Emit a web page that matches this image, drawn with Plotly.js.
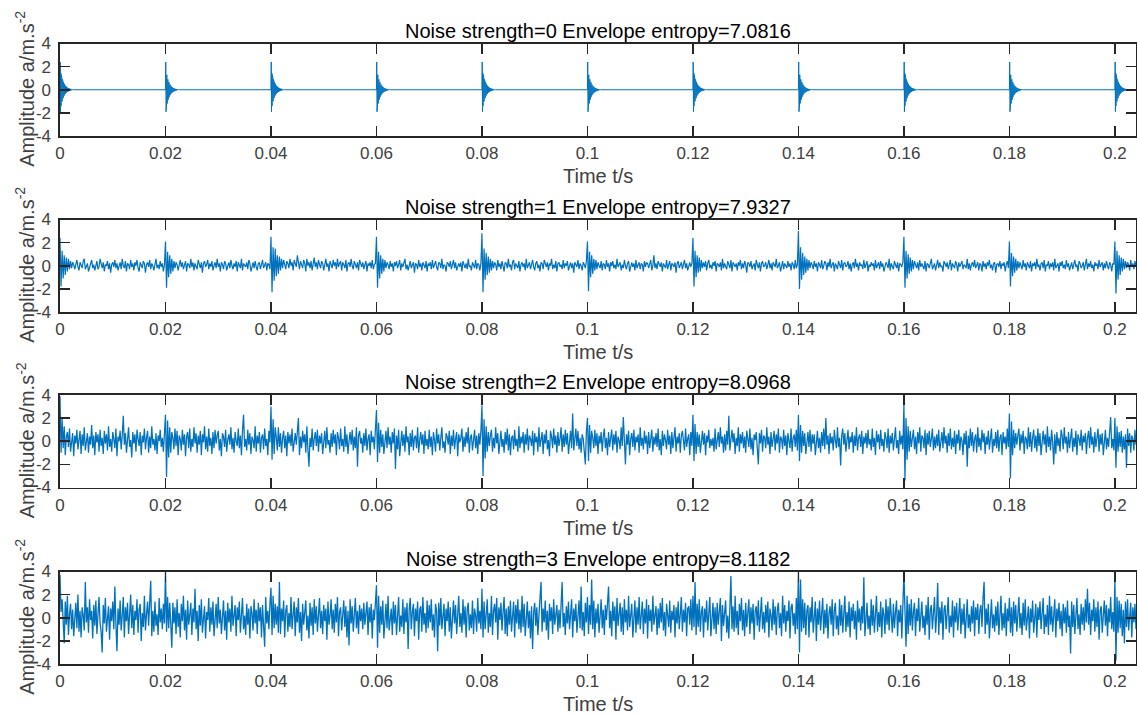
<!DOCTYPE html>
<html>
<head>
<meta charset="utf-8">
<script src="https://cdn.plot.ly/plotly-3.0.1.min.js"></script>
<style>
  html, body { margin: 0; padding: 0; background: #ffffff; }
  #chart { width: 1137px; height: 715px; }
</style>
</head>
<body>
<div id="chart"></div>
<script>
// ---------------- DATA ----------------
const noiseStrengths = [0, 1, 2, 3];
const envelopeEntropies = ['7.0816', '7.9327', '8.0968', '8.1182'];

const xTickVals = [0, 0.02, 0.04, 0.06, 0.08, 0.1, 0.12, 0.14, 0.16, 0.18, 0.2];
const xTickText = ['0', '0.02', '0.04', '0.06', '0.08', '0.1', '0.12', '0.14', '0.16', '0.18', '0.2'];
const yTickVals = [-4, -2, 0, 2, 4];
const yTickText = ['-4', '-2', '0', '2', '4'];

const signalEnd = 0.204;      // s, length of the record
const impulsePeriod = 0.02;   // s, spacing between fault impulses
const dtClean = 0.00005;      // s, sample spacing of the clean impulse response
const dtNoisy = 0.0002;       // s, sample spacing of the read-off noisy traces

// Noise strength = 0: impulse times and one decaying impulse response
const impulseTimes = [0, 0.02, 0.04, 0.06, 0.08, 0.1, 0.12, 0.14, 0.16, 0.18, 0.2];
const impulseResponse = [0, 2.4, -1.9, 1.45, -1.4, 1.3, -1.2, 1.05, -1.0, 0.9, -0.85, 0.78, -0.72, 0.66, -0.6,
  0.55, -0.5, 0.46, -0.42, 0.39, -0.36, 0.33, -0.3, 0.27, -0.25, 0.23, -0.21, 0.19, -0.18, 0.16, -0.15,
  0.14, -0.13, 0.12, -0.11, 0.1, -0.09, 0.08, -0.075, 0.07, -0.065, 0.06, -0.05, 0.045, -0.04, 0.035,
  -0.03, 0.025, -0.02, 0.015, -0.01, 0.005, 0];

// Noise strength = 1 (one row per 0.02 s impulse period)
const noisy1 = [
  [2.4,-1.8,1.3,-1.1,0.9,-0.8,0.7,-0.5,0.6,-0.3,0.4,-0.2,0.3,0.1,-0.3,0.2,0.5,-0.1,-0.4,0.3,0.1,-0.2,0.4,0.6,-0.3,0.0,0.2,-0.5,-0.1,0.3,0.5,-0.2,0.1,-0.4,0.2,0.4,-0.3,-0.1,0.6,0.2,-0.2,0.3,-0.5,0.1,0.0,0.4,-0.3,0.2,-0.6,0.1,0.3,-0.1,0.5,-0.2,0.2,-0.4,0.1,0.3,-0.3,0.6,0.0,-0.2,0.4,-0.5,0.2,0.1,-0.3,0.5,-0.1,0.2,-0.4,0.3,0.0,0.5,-0.2,-0.5,0.3,0.1,-0.2,0.4,0.2,-0.6,0.1,0.3,-0.1,0.5,-0.3,0.2,0.0,-0.4,0.3,0.6,-0.2,0.1,-0.3,0.4,-0.1,0.2,-0.5,0.1],
  [2.1,-1.9,1.2,-1.0,0.9,-0.7,0.6,-0.5,0.4,-0.2,0.3,0.1,-0.4,0.2,0.5,-0.1,0.3,-0.3,0.0,0.4,-0.5,0.2,0.1,-0.2,0.6,-0.1,0.3,-0.4,0.2,0.0,-0.3,0.5,0.1,-0.2,0.3,-0.6,0.2,0.4,-0.1,0.1,0.5,-0.3,0.2,-0.1,0.4,-0.4,0.0,0.3,-0.2,0.6,-0.1,0.2,-0.5,0.3,0.1,-0.3,0.4,0.2,-0.4,0.1,0.3,-0.2,0.5,0.0,-0.3,0.2,-0.1,0.4,-0.5,0.3,0.1,-0.2,0.6,-0.4,0.2,0.0,-0.1,0.3,-0.3,0.5,0.2,-0.5,0.1,0.3,-0.2,0.4,-0.1,-0.4,0.2,0.3,-0.3,0.1,0.5,-0.2,0.0,0.3,-0.4,0.2,0.1,-0.3],
  [2.5,-2.3,1.6,-1.3,1.5,-0.9,0.9,-0.7,0.8,-0.4,0.6,-0.2,0.5,0.1,-0.3,0.4,0.2,-0.2,0.6,0.0,0.3,-0.4,0.5,0.2,-0.1,0.9,0.3,-0.3,0.4,0.1,-0.2,0.5,0.2,-0.5,0.6,0.0,0.3,-0.2,0.4,-0.4,0.2,0.7,-0.1,0.3,-0.3,0.5,0.1,-0.2,0.4,0.2,-0.4,0.3,0.6,-0.1,0.2,-0.5,0.4,0.1,-0.2,0.5,0.0,0.3,-0.3,0.6,-0.1,0.2,0.4,-0.4,0.3,0.1,-0.2,0.5,-0.5,0.2,0.3,-0.1,0.6,0.0,-0.3,0.4,0.1,-0.2,0.3,-0.4,0.5,0.2,-0.1,0.3,-0.3,0.1,0.4,-0.5,0.2,0.0,0.3,-0.2,0.5,-0.3,0.1,0.2],
  [2.5,-1.9,1.2,-1.1,0.9,-0.7,0.6,-0.5,0.5,-0.2,0.3,0.1,-0.3,0.4,-0.1,0.2,-0.5,0.3,0.0,0.4,-0.2,0.1,0.5,-0.4,0.2,-0.1,0.3,0.6,-0.3,0.1,-0.4,0.2,0.4,-0.2,0.0,0.3,-0.6,0.2,0.1,-0.3,0.5,-0.1,0.2,-0.4,0.3,0.1,-0.2,0.4,-0.5,0.2,0.0,0.3,-0.3,0.5,-0.2,0.1,0.4,-0.1,-0.4,0.3,0.2,-0.2,0.6,-0.3,0.1,0.0,-0.5,0.3,0.2,-0.1,0.4,-0.3,0.1,0.5,-0.2,0.3,-0.4,0.0,0.2,-0.1,0.3,-0.5,0.4,0.1,-0.2,0.2,-0.3,0.6,-0.1,0.0,-0.4,0.3,0.1,-0.2,0.5,-0.3,0.2,0.1,-0.4,0.2],
  [2.8,-2.3,1.5,-1.2,1.1,-0.8,0.8,-0.6,0.6,-0.4,0.4,-0.2,0.3,0.1,-0.4,0.5,-0.1,0.2,-0.3,0.4,0.0,-0.5,0.3,0.2,-0.2,0.6,-0.1,0.1,-0.4,0.3,0.5,-0.3,0.2,0.0,-0.2,0.4,-0.5,0.1,0.3,-0.1,0.2,-0.4,0.6,-0.2,0.1,0.3,-0.3,0.0,0.5,-0.1,-0.4,0.2,0.4,-0.2,0.1,-0.5,0.3,0.2,-0.3,0.5,0.1,-0.1,0.3,-0.4,0.2,0.0,0.6,-0.3,0.1,-0.2,0.4,-0.5,0.2,0.3,-0.1,0.1,-0.3,0.5,-0.2,0.2,0.0,0.4,-0.4,0.1,0.3,-0.2,0.2,-0.6,0.3,0.1,-0.1,0.5,-0.3,0.2,0.0,-0.4,0.3,0.1,-0.2,0.4],
  [2.1,-2.2,1.2,-1.0,0.9,-0.7,0.6,-0.4,0.5,-0.3,0.3,0.0,-0.2,0.4,-0.4,0.2,0.1,-0.3,0.5,-0.1,0.2,-0.5,0.3,0.0,0.4,-0.2,0.1,-0.3,0.6,-0.1,0.2,0.3,-0.4,0.1,-0.2,0.5,0.0,-0.3,0.2,0.4,-0.5,0.1,0.3,-0.1,0.2,-0.4,0.5,-0.2,0.0,0.3,-0.3,0.2,0.1,-0.5,0.4,-0.1,0.3,0.2,-0.2,0.1,0.5,-0.4,0.0,0.9,-0.2,0.2,-0.3,0.4,0.1,-0.1,0.3,-0.5,0.2,0.0,-0.2,0.5,-0.3,0.1,0.4,-0.4,0.2,0.1,-0.1,0.3,-0.6,0.2,0.4,-0.2,0.0,0.3,-0.3,0.1,0.5,-0.2,0.2,-0.4,0.1,0.3,-0.1,0.2],
  [2.4,-1.8,1.3,-1.0,0.9,-0.6,0.7,-0.5,0.5,-0.2,0.3,-0.1,0.4,-0.4,0.2,0.5,-0.2,0.1,-0.3,0.3,0.0,0.4,-0.5,0.2,0.1,-0.1,0.3,-0.4,0.6,-0.2,0.2,0.0,-0.3,0.4,0.1,-0.2,0.5,-0.5,0.3,0.1,-0.1,0.2,-0.4,0.3,0.0,0.5,-0.3,0.2,-0.2,0.4,0.1,-0.6,0.3,0.2,-0.1,0.4,-0.3,0.0,0.2,-0.4,0.5,0.1,-0.2,0.3,-0.5,0.2,0.4,-0.1,0.0,0.3,-0.3,0.1,0.5,-0.2,0.2,-0.4,0.3,0.1,-0.1,0.6,-0.2,0.0,0.3,-0.5,0.1,0.4,-0.3,0.2,0.0,-0.2,0.4,-0.1,0.2,-0.4,0.3,0.1,-0.3,0.5,-0.2,0.1],
  [3.0,-2.0,1.6,-1.2,1.1,-0.8,0.8,-0.6,0.6,-0.4,0.5,-0.2,0.3,0.1,-0.3,0.4,-0.1,0.2,-0.5,0.3,0.1,-0.2,0.5,-0.3,0.0,0.4,0.2,-0.4,0.3,-0.1,0.6,-0.2,0.1,0.3,-0.5,0.2,0.0,-0.3,0.4,0.1,-0.2,0.5,-0.4,0.2,0.3,-0.1,0.0,0.4,-0.3,0.2,-0.5,0.1,0.3,-0.2,0.6,-0.1,0.2,-0.4,0.3,0.0,0.1,-0.3,0.5,-0.2,0.2,0.4,-0.5,0.1,-0.1,0.3,0.0,0.2,-0.4,0.5,-0.2,0.1,0.3,-0.3,0.4,-0.1,0.2,-0.5,0.0,0.3,0.1,-0.2,0.6,-0.4,0.2,0.0,-0.3,0.4,0.1,-0.2,0.3,-0.5,0.2,0.1,-0.1,0.3],
  [2.5,-1.9,1.3,-1.1,1.0,-0.7,0.7,-0.5,0.5,-0.3,0.4,0.1,-0.2,0.3,-0.4,0.5,-0.1,0.2,0.0,-0.3,0.4,-0.5,0.2,0.1,-0.2,0.3,0.6,-0.3,0.0,0.2,-0.4,0.1,0.5,-0.2,0.3,-0.1,0.0,-0.5,0.4,0.2,-0.1,0.3,-0.3,0.1,0.5,-0.4,0.2,0.0,-0.2,0.4,0.1,-0.5,0.3,-0.1,0.2,0.4,-0.3,0.1,0.0,-0.2,0.6,-0.3,0.2,-0.4,0.1,0.3,-0.1,0.5,-0.2,0.0,0.3,-0.4,0.2,0.1,-0.5,0.4,-0.1,0.2,-0.3,0.3,0.0,0.5,-0.2,0.1,-0.4,0.2,0.3,-0.6,0.1,0.2,-0.1,0.4,-0.3,0.2,0.0,0.3,-0.5,0.1,0.4,-0.2],
  [2.1,-1.8,1.1,-0.9,0.8,-0.6,0.6,-0.4,0.4,-0.2,0.3,0.0,-0.3,0.5,-0.1,0.2,-0.4,0.3,0.1,-0.2,0.4,-0.5,0.2,0.0,0.3,-0.3,0.6,-0.1,0.1,-0.4,0.2,0.3,-0.2,0.5,-0.5,0.1,0.0,0.4,-0.3,0.2,-0.1,0.3,-0.4,0.6,-0.2,0.1,0.2,-0.5,0.3,0.0,0.4,-0.2,0.1,-0.3,0.5,-0.1,0.2,-0.4,0.0,0.3,-0.3,0.2,0.5,-0.1,0.1,-0.5,0.4,0.2,-0.2,0.0,0.3,-0.4,0.1,0.6,-0.3,0.2,-0.1,0.4,-0.2,0.1,-0.5,0.3,0.0,0.2,-0.3,0.5,-0.1,0.1,0.3,-0.4,0.2,-0.2,0.4,0.0,-0.3,0.3,0.1,-0.5,0.2,0.1],
  [2.1,-2.4,1.3,-1.2,0.9,-0.8,0.7,-0.5,0.6,-0.3,0.4,-0.2,0.3,0.1,-0.4,0.5,-0.1,0.2,-0.3,0.4,0.0]
];

// Noise strength = 2
const noisy2 = [
  [3.9,-1.0,2.0,-0.6,1.3,-1.2,0.4,0.8,-0.5,1.1,-0.9,0.3,0.7,-1.3,0.5,-0.2,1.0,-0.7,0.2,0.9,-1.1,0.6,-0.4,1.2,-0.8,0.1,0.7,-1.0,0.4,-0.3,1.4,-0.6,0.5,-1.2,0.8,-0.1,0.6,-0.9,1.0,-0.4,0.3,-1.1,0.9,-0.2,0.6,-0.8,1.3,-0.5,0.2,-0.9,0.8,0.2,-0.6,1.1,-1.3,0.4,0.0,0.9,-0.7,0.5,2.2,-0.3,0.7,-1.0,0.3,1.2,-0.5,0.1,-1.4,0.8,-0.2,0.6,-0.9,1.0,0.2,-0.4,0.8,-1.2,0.5,-0.1,1.1,-0.7,0.3,0.9,-1.0,0.4,-0.6,1.3,-0.3,0.2,-0.8,0.7,-1.1,0.5,0.0,1.0,-0.5,0.3,-0.9,0.6],
  [2.3,-3.1,1.8,-1.4,1.2,-1.0,0.8,0.3,-0.7,1.1,-0.4,0.9,-1.2,0.5,0.2,-0.8,1.0,-0.3,0.6,-1.3,0.4,0.8,-0.6,1.1,-0.9,0.2,-0.5,1.2,-0.2,0.7,-1.0,0.5,-0.3,0.9,-1.2,0.6,-0.1,1.3,-0.7,0.4,-0.9,1.1,-0.4,0.3,-1.1,0.8,-0.6,1.0,-0.2,0.5,0.9,-0.8,0.2,-1.3,0.7,0.4,-0.5,1.0,-0.9,0.1,0.6,-0.3,1.2,-0.7,0.3,-1.0,0.8,0.0,-0.4,1.1,-0.6,0.5,-1.2,0.9,2.3,-0.5,0.2,-0.8,1.0,-0.3,0.7,-1.1,0.4,0.1,-0.6,1.3,-0.9,0.5,-0.2,0.8,-1.0,0.3,0.6,-0.7,1.1,-0.4,0.2,-1.2,0.9,-0.1],
  [3.0,-1.6,1.9,-1.1,1.2,0.4,-0.8,1.2,-0.5,0.7,-1.0,0.3,0.9,-0.6,0.5,-1.3,0.8,-0.2,0.6,-0.4,1.1,-0.9,0.2,0.7,-0.3,1.0,2.0,-1.2,0.4,-0.6,0.9,-0.1,0.6,-1.0,1.3,-0.7,-2.2,0.3,-0.5,1.1,-0.8,0.2,0.8,-0.4,1.0,-0.9,0.5,-0.2,0.7,-1.1,0.4,0.9,-0.6,1.2,-0.3,0.1,-1.0,0.7,-0.5,1.0,-0.2,0.6,-1.2,0.8,0.3,-0.7,1.1,-0.4,0.2,-0.9,1.3,-0.5,0.6,-1.1,0.0,0.8,-0.3,1.0,-0.8,0.4,-0.6,1.2,-2.2,0.5,0.9,-0.2,0.3,-1.0,0.7,-0.4,1.1,-0.8,0.2,0.6,-1.2,0.9,-0.1,0.4,-0.7,1.0],
  [2.7,-1.8,1.6,-1.0,1.0,-0.5,0.6,-1.1,0.3,0.9,-0.6,1.2,-0.3,0.4,-1.0,0.8,-0.2,1.1,-2.4,0.5,-0.7,1.0,-1.3,0.2,0.9,-0.4,0.6,-0.9,1.3,-0.1,0.4,-1.2,0.7,-0.5,1.0,-0.8,0.3,0.5,-0.6,1.2,-1.0,0.1,0.8,-0.3,0.6,-1.1,0.9,-0.4,0.2,-0.7,1.0,-0.5,0.4,-1.2,0.8,0.1,-0.9,1.1,-0.2,0.6,-0.8,0.3,1.2,-0.6,0.0,-1.0,0.7,0.4,-0.3,0.9,-1.1,0.5,-0.4,1.0,-0.7,0.2,0.8,-1.3,0.6,-0.1,0.3,1.1,-0.9,0.4,-0.5,0.8,-0.2,1.2,-1.0,0.3,0.6,-0.8,0.1,1.0,-0.6,0.5,-1.1,0.7,-0.3,0.9],
  [3.1,-3.0,1.9,-1.5,1.3,-0.9,0.8,-0.4,0.5,1.0,-0.9,0.3,-0.6,1.2,-0.2,0.7,-1.1,0.4,0.9,-0.5,0.2,-1.0,0.8,-0.3,1.1,-0.8,0.6,-1.2,0.3,0.5,-0.7,1.0,-0.4,0.2,-0.9,1.3,-0.6,0.4,-0.2,0.8,-1.0,0.6,-0.3,1.1,-0.8,0.5,0.2,-0.4,0.9,-1.2,0.7,-0.1,0.4,-0.9,1.2,-0.5,0.3,0.8,-1.1,0.6,-0.2,1.0,-0.7,0.1,-1.3,0.9,0.4,-0.6,1.1,-0.3,0.5,-1.0,0.8,-0.4,0.2,1.2,-0.9,0.6,-0.5,1.0,-0.3,0.7,-1.1,0.4,0.9,-0.6,2.4,-0.8,0.5,1.1,-0.4,0.9,-0.7,0.3,-1.0,0.6,0.2,-0.9,-2.0,0.8],
  [2.0,-1.7,1.4,-1.0,0.9,0.3,-0.6,1.0,-0.4,0.7,-1.1,0.5,-0.2,0.8,-0.9,0.4,1.1,-0.6,0.3,-1.2,0.8,-0.5,0.2,1.0,-0.8,0.6,-0.3,0.9,-1.0,0.4,0.1,-0.7,1.2,-0.4,2.1,-0.9,-2.0,0.6,-0.3,0.9,-1.2,0.2,0.7,-0.5,1.0,-0.8,0.4,-0.1,0.6,-1.0,1.2,-0.4,0.3,-0.7,0.9,-0.2,0.5,-1.1,0.8,-0.6,0.3,1.0,-0.9,0.4,-0.3,0.7,-0.5,1.1,-0.8,0.2,-1.2,0.9,-0.4,0.6,0.1,-0.7,1.0,-0.3,0.5,-1.1,0.8,-0.6,0.3,1.2,-0.9,0.4,-0.2,0.7,-1.0,0.5,0.9,-0.3,-0.8,1.1,-0.5,0.2,0.6,-1.2,0.8,-0.4],
  [2.3,-1.7,1.5,-1.1,0.8,-0.5,0.6,-1.0,0.4,0.9,-0.3,0.7,-1.2,0.5,-0.1,1.0,-0.6,0.2,-0.4,0.3,-0.9,1.1,-0.7,0.2,0.8,-0.5,1.2,-0.2,0.4,-1.0,0.6,-0.8,0.9,-0.3,2.2,-0.8,0.5,1.0,-0.1,0.7,-1.1,0.3,-0.4,1.2,-0.9,0.6,-0.2,0.8,-0.6,0.4,-1.0,0.9,0.2,-0.5,1.1,-0.7,0.3,-1.2,0.6,0.1,0.8,-0.4,-2.0,0.7,-0.2,1.0,-0.9,0.5,0.3,-0.6,1.2,-0.3,0.4,-1.1,0.8,-0.5,0.1,0.9,-0.8,0.6,-0.2,1.1,-1.0,0.4,0.2,-0.7,1.0,-0.4,0.5,-1.2,0.7,0.0,-0.6,1.1,-0.9,0.3,0.6,-0.5,1.0,-0.8],
  [2.3,-1.7,1.4,-1.0,0.9,-0.4,0.7,-1.1,0.3,0.8,-0.5,1.0,-0.9,0.6,-0.2,0.6,-1.2,0.4,0.9,-0.6,0.3,-1.0,0.8,-0.4,1.1,-0.7,2.0,-0.3,0.5,-1.1,0.7,-0.2,0.4,-0.8,1.0,0.1,-0.6,1.2,-0.5,0.3,-2.1,0.5,1.1,-0.3,0.7,-0.9,0.2,1.0,-0.7,0.4,-0.1,0.8,-1.0,0.5,-0.4,1.2,-0.8,0.3,0.6,-0.5,0.9,-1.1,0.4,-0.2,0.7,-0.6,1.0,-0.3,0.2,-0.8,1.1,-0.5,0.3,-1.2,0.9,-0.1,0.6,-0.7,1.0,-0.4,0.2,-0.9,0.8,0.3,-0.6,1.1,-1.0,0.5,-0.2,0.7,-0.8,0.4,1.2,-0.6,0.1,-1.1,0.9,-0.3,0.5,-0.7],
  [3.2,-3.4,2.0,-1.6,1.3,-0.9,0.9,-0.5,0.6,1.0,-0.7,0.4,-1.1,0.8,-0.2,1.2,-0.9,0.5,0.3,-0.6,1.0,-1.2,0.7,-0.3,0.9,-0.5,0.2,1.1,-0.8,0.4,-0.6,0.6,-0.4,1.0,-0.9,0.3,0.8,-0.6,1.2,-0.2,0.5,-1.0,0.7,-0.4,1.1,-0.7,0.3,-0.5,0.9,-1.1,0.6,-0.2,1.0,-0.8,0.4,0.1,-1.2,0.7,-0.3,0.9,-2.2,0.5,-0.6,1.1,-0.4,0.8,-0.9,0.2,0.6,-1.0,1.2,-0.5,0.3,-0.8,1.0,-0.1,0.7,-1.1,0.4,-0.3,0.9,-0.7,0.5,1.1,-1.0,0.2,-0.4,0.8,-0.6,1.0,-0.9,0.3,0.6,-1.2,0.8,-0.2,0.4,-0.7,1.1,-0.5],
  [2.4,-3.2,1.7,-1.2,1.0,-0.6,0.7,-0.3,0.5,1.1,-0.8,0.6,-0.2,0.9,-1.1,0.4,0.2,-0.7,1.2,-0.5,0.8,-0.9,0.3,1.0,-0.6,0.5,-0.9,1.1,-0.4,0.7,-1.2,0.2,0.9,-0.3,0.6,-1.0,1.3,-0.5,0.4,-0.8,1.0,-0.1,-2.0,0.6,-1.1,0.8,-0.4,0.3,-0.9,1.0,0.5,-0.7,1.2,-0.2,0.4,-1.0,0.8,-0.6,0.1,1.1,-0.9,0.3,-0.5,0.9,-1.2,0.6,0.2,-0.4,1.0,-0.8,0.5,-0.1,0.7,-1.1,0.3,0.9,-0.6,1.2,-0.3,0.4,-1.0,0.8,-0.5,0.2,1.1,-0.9,0.6,-0.3,0.7,-1.2,0.4,1.0,-0.7,0.3,-0.5,0.9,2.1,-0.6,0.2,-0.8],
  [2.0,-2.3,1.3,-0.9,0.8,-0.5,0.9,-1.0,0.4,-0.7,0.6,-2.3,1.1,-0.4,0.7,-1.0,0.5,0.2,-0.8,1.0,-0.3]
];

// Noise strength = 3
const noisy3 = [
  [3.7,0.5,1.6,-0.8,-2.2,1.4,-0.6,1.9,-1.5,0.3,1.2,-1.0,0.7,-1.6,0.4,1.3,-0.9,2.0,-1.2,0.6,-1.7,0.9,0.2,-1.1,3.1,-0.4,0.9,-1.3,1.6,-0.2,0.6,-1.8,1.1,-0.7,1.5,-1.4,0.3,1.8,-0.5,-1.2,-3.0,1.1,-0.5,1.7,-1.2,0.4,1.0,-1.9,0.8,-0.3,1.4,-1.0,2.7,-0.6,-2.9,0.8,-0.6,1.5,-1.1,0.2,1.8,-1.7,0.9,-0.3,1.3,-1.4,0.5,2.0,-0.9,1.1,-1.5,0.6,-0.2,1.6,-1.3,0.7,1.2,-2.0,0.4,-0.8,1.9,-1.1,0.3,1.4,-0.7,0.9,3.2,-1.6,0.6,-1.2,1.4,-0.7,0.3,-1.5,1.7,-0.4,0.8,-1.0,1.2,-0.5],
  [4.0,-1.2,1.8,-0.9,1.3,-0.5,-2.6,1.3,-0.5,0.9,-1.4,1.6,-0.8,0.4,-1.7,1.2,-0.3,1.9,-1.1,0.7,-1.9,1.5,-0.6,0.2,1.3,-1.5,0.8,-0.4,2.5,-1.0,0.6,-2.0,1.1,-0.7,1.6,-1.3,0.3,1.0,-1.8,0.5,-0.2,1.7,-1.2,0.9,-0.6,1.4,-1.6,0.4,1.2,-0.9,1.8,-0.5,0.7,-1.4,0.2,1.5,-1.1,0.6,-1.9,1.3,-0.4,0.8,-1.2,1.9,-0.7,0.3,1.1,-1.6,0.9,-0.2,1.4,-1.3,0.5,1.7,-1.0,0.2,-1.5,1.2,-0.6,0.8,-1.8,1.0,0.4,-1.1,1.6,-0.5,0.7,-1.4,1.3,-0.3,0.9,-1.7,1.1,-0.8,-2.5,1.8,-0.5,0.6,-1.0,1.2],
  [2.6,-1.5,1.9,-0.9,1.2,-0.6,1.0,-1.3,3.1,-1.4,0.8,-0.3,1.5,-1.7,0.6,1.1,-1.2,0.4,-0.8,1.8,-1.0,0.3,1.4,-1.6,0.9,-0.4,1.7,-1.3,0.5,-2.0,1.2,-0.6,0.8,1.5,-1.1,0.2,-1.8,1.3,-0.7,0.9,-1.5,1.6,-0.5,1.0,-1.2,0.4,1.7,-0.9,0.6,-1.4,1.1,-0.3,0.8,-1.9,1.4,-0.6,0.2,1.6,-1.0,0.7,-1.3,1.2,-0.4,1.8,-1.6,0.5,0.9,-1.1,0.3,1.5,-0.8,1.0,-1.7,0.6,-2.4,1.6,-0.5,1.0,-1.2,0.4,1.7,-0.9,0.6,-1.4,1.1,-0.3,0.8,-1.0,1.3,-0.6,0.2,1.4,-1.5,0.9,-0.4,1.2,-1.8,0.7,-0.2,1.0],
  [2.8,-2.6,1.9,-1.3,1.0,-0.6,1.5,-1.8,0.4,1.2,-0.9,1.9,-1.1,0.3,0.8,-1.5,1.4,-0.5,1.1,-1.5,0.6,1.8,-1.2,0.2,-0.8,1.6,-1.4,0.9,-0.4,1.3,-2.7,0.7,1.7,-1.0,0.5,1.2,-1.6,0.8,-0.3,1.4,-1.9,0.7,1.0,-1.2,1.8,-0.6,0.4,-1.3,1.5,-0.9,1.1,-0.4,1.6,-1.1,0.3,-1.7,1.2,0.6,-2.9,1.3,-0.7,1.7,-1.0,0.5,1.2,-1.6,0.8,-0.3,1.4,-1.2,0.9,-1.8,0.6,1.5,-0.5,1.1,-1.4,0.2,1.9,-0.8,0.4,-1.3,1.6,-0.6,1.0,-1.7,0.7,1.3,-1.1,0.3,-0.9,1.5,-1.4,0.8,0.2,-1.2,1.7,-0.5,0.6,-1.0],
  [2.5,-1.7,1.4,-1.0,0.7,1.6,-1.3,0.4,-0.8,1.9,-1.5,0.6,1.2,-0.4,1.7,-1.9,0.9,-0.2,1.3,-1.1,0.5,1.8,-1.4,0.8,-1.6,1.0,-0.6,1.5,-1.2,0.3,1.4,-1.7,1.1,-0.5,1.6,-1.0,0.7,-1.3,1.9,-0.8,1.2,-1.6,0.4,1.4,-0.9,0.6,-1.8,1.0,-2.7,0.5,1.3,-0.7,0.9,-1.5,0.2,1.7,3.1,-1.2,0.8,-0.4,1.5,-1.1,0.6,-1.9,1.2,-0.3,0.9,-1.4,1.6,-0.6,0.3,1.1,-1.2,0.7,-0.9,1.8,3.1,-0.8,0.4,-1.5,1.0,-0.5,1.4,-1.0,0.2,1.6,-1.7,0.8,-0.3,1.2,-1.3,0.6,1.5,-0.9,2.7,-1.1,0.5,-1.6,1.3,-0.4],
  [1.8,-1.4,1.1,-0.6,3.3,-1.0,1.5,-1.7,0.8,-0.5,1.2,-1.3,0.4,1.6,-0.9,0.7,-1.5,1.1,-0.2,0.9,2.7,-0.9,0.6,-1.6,1.4,-0.3,1.0,-1.9,1.7,-0.7,0.4,1.3,-1.2,0.9,-1.5,1.6,-0.4,0.7,-1.1,1.9,-0.8,0.3,1.2,-1.7,0.5,1.5,-1.3,0.9,-0.6,1.8,-1.0,0.2,1.4,-1.4,0.8,-0.5,1.6,-1.8,1.1,-0.3,0.7,-1.2,1.9,-0.6,0.3,1.0,-1.5,0.8,-0.9,1.3,-0.4,1.7,-1.1,0.5,-1.6,1.2,0.2,-0.8,1.5,-1.3,0.6,-0.2,1.1,-1.7,0.9,-0.5,1.4,-1.0,0.3,1.8,-1.2,0.7,-0.4,1.3,-1.6,0.8,1.0,-0.6,1.6,-1.1],
  [1.9,-0.8,3.1,-1.5,1.2,-0.8,1.6,-1.2,0.5,1.0,-1.7,0.8,-0.4,1.5,-1.1,0.6,1.8,-1.6,0.3,1.3,-1.0,0.9,-1.4,1.3,-0.6,0.4,1.7,-2.0,1.1,-0.7,0.8,1.5,-1.3,0.2,-1.8,1.4,3.6,-1.0,1.0,-1.2,1.9,-0.9,0.6,-1.5,1.2,-0.3,1.7,-1.1,0.7,-1.6,1.3,-0.8,0.4,1.6,-1.4,0.9,-0.5,1.2,-1.9,0.6,1.0,-0.7,1.5,-1.2,0.3,1.8,-1.0,0.5,-1.3,1.1,-0.4,1.4,-1.7,0.8,0.2,-1.1,1.6,-0.6,1.0,-1.5,0.7,1.3,-0.9,0.4,-1.6,1.9,-0.5,1.1,-1.2,0.6,-0.3,1.5,-1.8,0.9,1.2,-0.7,0.4,-1.4,1.7,-1.0],
  [4.0,-3.0,3.3,-1.2,1.6,-0.9,1.3,-1.5,0.6,1.1,-1.7,0.9,-0.4,1.8,-1.3,0.5,1.4,-2.0,0.8,-0.6,1.5,-1.1,0.3,1.7,-1.4,0.7,-0.9,1.2,-1.8,0.4,1.0,-0.6,1.6,-1.6,0.6,1.3,-1.0,0.2,-1.5,1.6,-0.7,1.1,-1.3,0.8,1.9,-1.2,0.5,-0.8,1.4,-1.7,0.9,-0.3,1.2,-1.0,0.6,-1.9,1.5,-0.4,0.8,-1.1,1.0,-0.5,3.5,-1.6,0.6,1.3,-1.0,0.2,-1.5,1.6,-0.7,1.1,-1.3,0.8,1.9,-1.2,0.5,-0.8,1.4,-1.7,0.9,0.3,-1.4,1.6,-0.6,1.0,-1.1,1.7,-0.2,-1.3,1.2,-0.9,0.5,1.5,-1.6,0.7,-0.4,1.1,-1.8,0.8],
  [3.9,0.6,-2.5,1.9,-1.4,1.2,-0.7,1.6,-1.1,0.5,1.3,-1.6,0.8,-0.3,1.7,-1.2,0.6,1.4,-0.9,0.2,-1.5,1.1,-0.6,1.8,-1.9,0.7,1.1,-1.0,0.4,1.8,-1.3,0.2,3.0,-1.5,0.9,-0.5,1.4,-1.9,0.7,1.1,-1.0,0.4,1.8,-1.3,0.2,-0.8,1.5,-1.7,1.0,-0.4,1.3,-1.1,0.6,1.7,-1.4,0.8,-0.6,1.2,-1.8,0.5,1.6,-0.9,0.3,-1.2,1.0,-0.5,1.5,-1.6,0.9,-0.2,1.2,-1.4,0.6,1.1,-0.8,1.7,3.1,-1.4,0.8,-0.6,1.2,-1.8,0.5,1.6,-0.9,0.3,-1.2,1.0,-0.7,1.4,-1.5,0.6,1.9,-1.1,0.4,-0.9,1.3,-1.6,0.8,-0.3],
  [1.7,-1.3,0.9,-1.6,1.4,-0.5,1.1,-1.2,0.7,1.8,-0.9,0.4,-1.5,1.3,-0.7,1.6,-1.1,0.3,1.0,-1.8,0.8,-0.4,1.5,-1.3,0.6,1.2,-1.7,0.9,-0.2,1.4,-1.0,0.5,1.7,-1.4,0.3,-0.8,1.1,-1.5,1.9,-0.6,1.0,-1.2,0.4,1.6,-1.7,0.8,-0.3,1.3,-1.0,0.6,-1.6,1.2,-0.5,0.9,-1.3,1.5,-0.8,0.2,-3.1,1.4,-0.8,1.1,-1.4,0.5,1.7,-1.0,0.3,-1.5,1.2,-0.6,0.9,-1.1,1.6,-0.4,2.5,-0.6,1.3,-1.5,0.7,-0.3,1.6,-1.2,0.9,-0.8,1.4,-1.9,0.6,1.0,-1.3,0.2,1.5,-0.7,1.1,-1.6,0.8,-0.4,1.8,-1.0,0.5,-1.2],
  [3.3,-3.7,1.8,-1.3,1.5,-0.9,1.2,-1.6,0.7,-2.2,1.4,-0.8,1.6,-1.1,0.5,1.3,-1.7,0.9,-0.4,1.2,-1.0]
];

// ---------------- BUILD TRACES ----------------
function cleanTrace() {
  const x = [], y = [];
  impulseTimes.forEach(t0 => {
    impulseResponse.forEach((v, j) => { x.push(+(t0 + j * dtClean).toFixed(6)); y.push(v); });
  });
  x.push(signalEnd); y.push(0);
  return { x, y };
}
function rowsTrace(rows) {
  const x = [], y = [];
  rows.forEach((row, k) => {
    row.forEach((v, j) => { x.push(+(k * impulsePeriod + j * dtNoisy).toFixed(6)); y.push(v); });
  });
  return { x, y };
}

const series = [cleanTrace(), rowsTrace(noisy1), rowsTrace(noisy2), rowsTrace(noisy3)];

// ---------------- LAYOUT ----------------
const W = 1137, H = 715, ML = 60, MR = 1;
const plotW = W - ML - MR;
const panelTops = [43.5, 219.5, 395, 571.5];
const panelH = 92.5;
const FONT = 'Liberation Sans, Arial, Helvetica, sans-serif';
const AX = '#262626';
const LBL = '#404040';
const pyPaper = p => 1 - p / H;
const pxPaper = p => (p - ML) / plotW;
const lineWidths = [1, 1.2, 1.25, 1.3];

const traces = series.map((s, i) => ({
  type: 'scatter', mode: 'lines', x: s.x, y: s.y,
  xaxis: i === 0 ? 'x' : 'x' + (i + 1),
  yaxis: i === 0 ? 'y' : 'y' + (i + 1),
  line: { color: '#0072BD', width: lineWidths[i] },
  hoverinfo: 'skip', showlegend: false
}));

const layout = {
  width: W, height: H,
  margin: { l: ML, r: MR, t: 0, b: 0, pad: 0 },
  paper_bgcolor: '#ffffff', plot_bgcolor: '#ffffff',
  showlegend: false,
  font: { family: FONT, size: 17, color: LBL },
  annotations: []
};

panelTops.forEach((top, i) => {
  const sx = i === 0 ? '' : String(i + 1);
  const bottom = top + panelH;
  layout['xaxis' + sx] = {
    domain: [0, 1], range: [0, signalEnd], anchor: 'y' + sx,
    tickmode: 'array', tickvals: xTickVals, ticktext: xTickText,
    ticks: 'inside', ticklen: 10, tickwidth: 1.6, tickcolor: AX,
    showline: true, linecolor: AX, linewidth: 1.6, mirror: 'ticks',
    showgrid: false, zeroline: false, fixedrange: true,
    tickfont: { family: FONT, size: 17, color: LBL },
    ticklabelstandoff: 1
  };
  layout['yaxis' + sx] = {
    domain: [pyPaper(bottom), pyPaper(top)], range: [-4, 4], anchor: 'x' + sx,
    tickmode: 'array', tickvals: yTickVals, ticktext: yTickText,
    ticks: 'inside', ticklen: 10, tickwidth: 1.6, tickcolor: AX,
    showline: true, linecolor: AX, linewidth: 1.6, mirror: 'ticks',
    showgrid: false, zeroline: false, fixedrange: true,
    tickfont: { family: FONT, size: 17, color: LBL },
    ticklabelstandoff: 4
  };
  layout.annotations.push({
    xref: 'paper', yref: 'paper', x: 0.5, y: pyPaper(top - 13),
    xanchor: 'center', yanchor: 'middle', showarrow: false,
    text: 'Noise strength=' + noiseStrengths[i] + ' Envelope entropy=' + envelopeEntropies[i],
    font: { family: FONT, size: 20, color: '#000000' }
  });
  layout.annotations.push({
    xref: 'paper', yref: 'paper', x: 0.5, y: pyPaper(bottom + 40),
    xanchor: 'center', yanchor: 'middle', showarrow: false,
    text: 'Time t/s', font: { family: FONT, size: 20, color: LBL }
  });
  layout.annotations.push({
    xref: 'paper', yref: 'paper', x: pxPaper(25), y: pyPaper(top + panelH / 2 - 1),
    xanchor: 'center', yanchor: 'middle', showarrow: false, textangle: -90,
    text: 'Amplitude a/m.s<sup>-2</sup>', font: { family: FONT, size: 20, color: LBL }
  });
});

Plotly.newPlot('chart', traces, layout, { staticPlot: true, displayModeBar: false });
</script>
</body>
</html>
